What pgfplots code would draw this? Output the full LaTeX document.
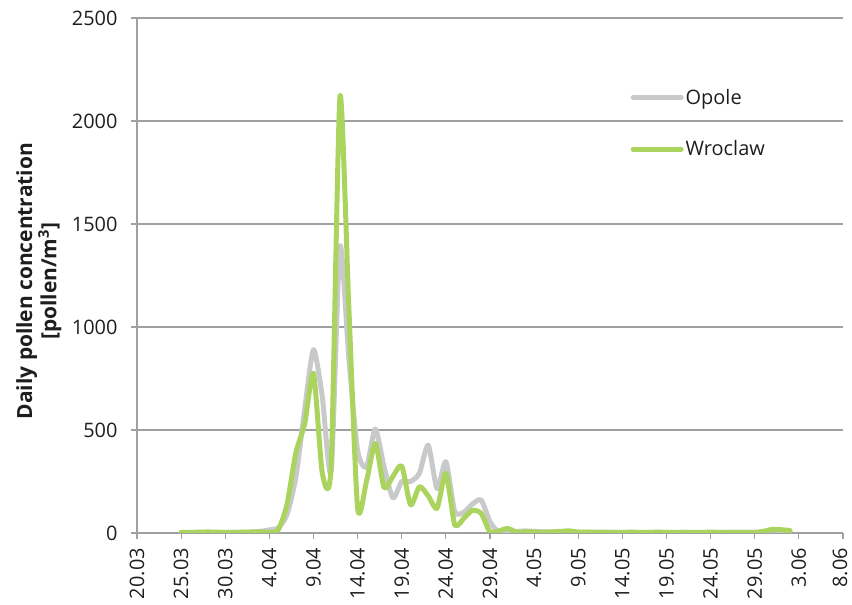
\documentclass[border=0pt]{standalone}
\usepackage{fontspec}
\setmainfont{Open Sans}
\usepackage{pgfplots}
\pgfplotsset{compat=1.18}
\definecolor{opole}{RGB}{200,201,203}
\definecolor{wroc}{RGB}{171,212,95}
\definecolor{gridc}{RGB}{160,160,160}
\definecolor{txt}{RGB}{30,30,30}
\begin{document}
\begin{tikzpicture}
\begin{axis}[
  at={(137bp,72bp)}, anchor=south west,
  scale only axis, width=706bp, height=515bp,
  xmin=0, xmax=80, ymin=0, ymax=2500,
  xtick={0,5,...,80},
  xticklabels={20.03,25.03,30.03,4.04,9.04,14.04,19.04,24.04,29.04,4.05,9.05,14.05,19.05,24.05,29.05,3.06,\raisebox{3bp}[\height][\depth]{8.06}},
  ytick={0,500,...,2500},
  axis x line*=bottom, axis y line*=left,
  axis line style={gridc, line width=1.2bp, -},
  ymajorgrids, grid style={gridc, line width=1.2bp},
  tick align=outside, major tick length=6bp,
  tick style={gridc, line width=1.2bp},
  /pgf/number format/assume math mode=true,
  /pgf/number format/1000 sep={},
  scaled y ticks=false,
  yticklabel style={font=\fontsize{20}{22}\selectfont, text=txt, xshift=-10bp},
  xticklabel style={font=\fontsize{20}{22}\selectfont, text=txt, rotate=90, anchor=east, inner sep=1bp, xshift=-8bp},
  ylabel={Daily pollen concentration\\{[}pollen/m\textsuperscript{3}{]}},
  every axis y label/.style={at={(axis description cs:-0.139,0.489)}, rotate=90, anchor=center, align=center, font=\bfseries\fontsize{21}{21}\selectfont, text=txt},
  legend style={at={(axis description cs:0.699,0.866)}, anchor=north west, draw=none, fill=none, font=\fontsize{20}{22}\selectfont, text=txt, row sep=31bp, inner sep=0pt, cells={anchor=west}},
  legend image code/.code={\draw[#1] (0bp,0bp) -- (48bp,0bp);},
  clip=true,
]
\addplot[opole, line width=5bp, smooth, tension=0.4, line join=round, line cap=round] coordinates {
(5,2)(6,2)(7,3)(8,3)(9,2)(10,2)(11,3)(12,3)(13,4)(14,8)(15,15)(16,25)(17,90)(18,270)(19,600)(20,890)
(21,660)(22,300)(23,1390)(24,850)(25,400)(26,320)(27,505)(28,320)(29,170)(30,250)(31,250)(32,290)
(33,427)(34,215)(35,346)(36,105)(37,100)(38,140)(39,160)(40,55)(41,3)(42,10)(43,8)(44,10)(45,8)
(46,6)(47,5)(48,6)(49,8)(50,4)(51,3)(52,4)(53,3)(54,3)(55,2)(56,3)(57,2)(58,2)(59,3)(60,2)(61,2)
(62,3)(63,2)(64,2)(65,3)(66,2)(67,3)(68,3)(69,3)(70,3)(71,6)(72,14)(73,12)(74,10)
};
\addlegendentry{Opole}
\addplot[wroc, line width=5bp, smooth, tension=0.4, line join=round, line cap=round] coordinates {
(5,3)(6,3)(7,4)(8,5)(9,4)(10,3)(11,3)(12,4)(13,5)(14,6)(15,2)(16,15)(17,140)(18,390)(19,530)(20,775)
(21,290)(22,330)(23,2120)(24,1100)(25,120)(26,250)(27,435)(28,220)(29,275)(30,325)(31,136)(32,225)
(33,180)(34,120)(35,290)(36,40)(37,70)(38,110)(39,95)(40,5)(41,10)(42,22)(43,5)(44,6)(45,5)
(46,4)(47,5)(48,8)(49,10)(50,4)(51,5)(52,3)(53,4)(54,3)(55,3)(56,4)(57,3)(58,3)(59,4)(60,3)(61,3)
(62,3)(63,3)(64,3)(65,4)(66,3)(67,3)(68,3)(69,3)(70,3)(71,8)(72,18)(73,16)(74,12)
};
\addlegendentry{Wroclaw}
\end{axis}
\pgfresetboundingbox
\path[use as bounding box] (0,0) rectangle (852bp,605bp);
\end{tikzpicture}
\end{document}
